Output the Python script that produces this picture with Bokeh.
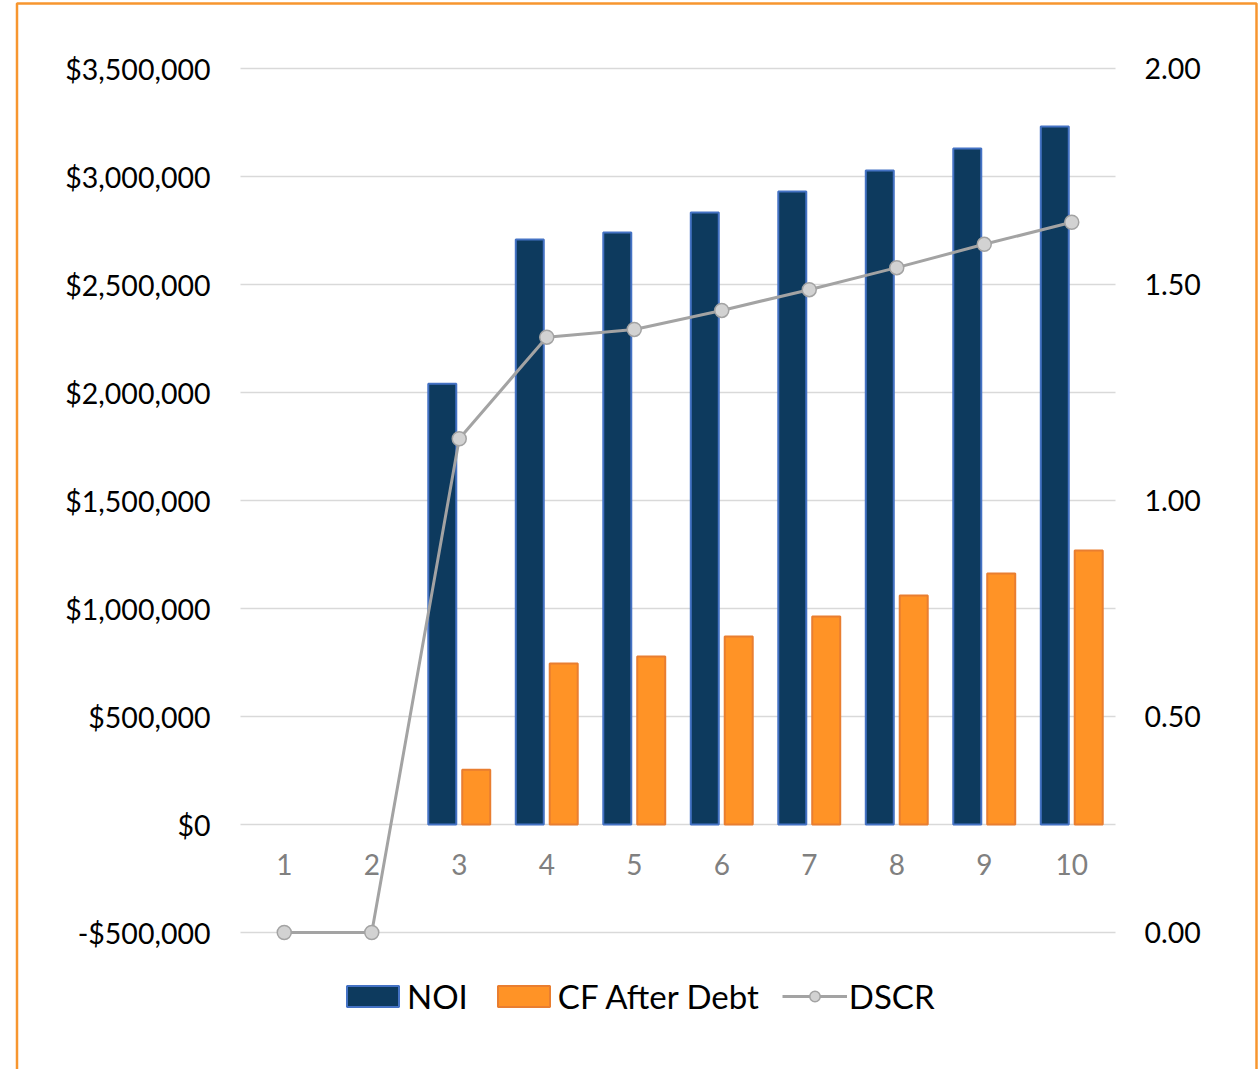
from bokeh.plotting import figure
from bokeh.models import (Range1d, LinearAxis, FixedTicker, CustomJSTickFormatter,
                          Legend, LegendItem, BoxAnnotation, ColumnDataSource)
from bokeh.transform import dodge
from bokeh.embed import file_html
from bokeh.resources import INLINE

NaN = float("nan")

# ---- data ----
years = [1, 2, 3, 4, 5, 6, 7, 8, 9, 10]
noi = [NaN, NaN, 2041000, 2708000, 2741000, 2833000, 2931000, 3028000, 3130000, 3231000]
cf_after_debt = [NaN, NaN, 254000, 745000, 778000, 870000, 963000, 1060000, 1162000, 1268000]
dscr = [0.0, 0.0, 1.143, 1.378, 1.396, 1.440, 1.488, 1.539, 1.593, 1.644]
left_ticks = [-500000, 0, 500000, 1000000, 1500000, 2000000, 2500000, 3000000, 3500000]
right_ticks = [0.0, 0.5, 1.0, 1.5, 2.0]

FONT = "Lato"

# ---- layout (pixels) ----
W, H = 1258, 1069
PX_L, PX_R, PX_T, PX_B = 240, 1115, 68, 932
X_LO, X_HI = years[0] - 0.5, years[-1] + 0.5
Y_LO, Y_HI = left_ticks[0], left_ticks[-1]
R_LO, R_HI = right_ticks[0], right_ticks[-1]

sx = (PX_R - PX_L) / (X_HI - X_LO)
sy = (PX_B - PX_T) / (Y_HI - Y_LO)
sr = (PX_B - PX_T) / (R_HI - R_LO)
x_start, x_end = X_LO - PX_L / sx, X_HI + (W - PX_R) / sx
y_start, y_end = Y_LO - (H - PX_B) / sy, Y_HI + PX_T / sy
r_start, r_end = R_LO - (H - PX_B) / sr, R_HI + PX_T / sr

src = ColumnDataSource(dict(year=years, noi=noi, cf=cf_after_debt, dscr=dscr))

p = figure(width=W, height=H, output_backend="svg", toolbar_location=None,
           x_range=Range1d(x_start, x_end), y_range=Range1d(y_start, y_end),
           min_border=0)
p.outline_line_color = None
p.background_fill_color = "white"
p.border_fill_color = "white"
p.extra_y_ranges = {"dscr": Range1d(r_start, r_end)}
p.xgrid.visible = False
p.ygrid.visible = False

# grid lines spanning only the plot area
p.segment(x0=[X_LO] * len(left_ticks), x1=[X_HI] * len(left_ticks),
          y0=left_ticks, y1=left_ticks, line_color="#D9D9D9", line_width=1.5)

def style_axis(ax, color="black", size="28.5px", standoff=24):
    ax.axis_line_color = None
    ax.major_tick_line_color = None
    ax.minor_tick_line_color = None
    ax.major_label_text_font = FONT
    ax.major_label_text_font_size = size
    ax.major_label_text_color = color
    ax.major_label_standoff = standoff

# left axis
ya = p.yaxis[0]
ya.ticker = FixedTicker(ticks=left_ticks)
ya.formatter = CustomJSTickFormatter(code="""
    const s = '$' + Math.abs(tick).toLocaleString('en-US');
    return tick < 0 ? '-' + s : s;
""")
ya.fixed_location = X_LO
style_axis(ya, standoff=24)

# right axis
ra = LinearAxis(y_range_name="dscr", ticker=FixedTicker(ticks=right_ticks),
                formatter=CustomJSTickFormatter(code="return tick.toFixed(2);"),
                fixed_location=X_HI)
style_axis(ra, standoff=23)
p.add_layout(ra, "right")

# category axis at y = 0
xa = p.xaxis[0]
xa.ticker = FixedTicker(ticks=years)
xa.fixed_location = 0
style_axis(xa, color="#808080", size="28px", standoff=23)

# bars
r_noi = p.vbar(x=dodge("year", -0.194, range=p.x_range), top="noi", bottom=0, width=0.32,
               source=src, fill_color="#0D3A5E", line_color="#4472C4", line_width=2)
r_cf = p.vbar(x=dodge("year", 0.194, range=p.x_range), top="cf", bottom=0, width=0.32,
              source=src, fill_color="#FF9326", line_color="#E97E30", line_width=2)

# DSCR line
r_line = p.line(x="year", y="dscr", source=src, y_range_name="dscr",
                line_color="#A3A3A3", line_width=3)
r_pts = p.scatter(x="year", y="dscr", source=src, y_range_name="dscr", size=14,
                  fill_color="#D2D2D2", line_color="#A3A3A3", line_width=1.5)

legend = Legend(items=[LegendItem(label="NOI", renderers=[r_noi]),
                       LegendItem(label="CF After Debt", renderers=[r_cf]),
                       LegendItem(label="DSCR", renderers=[r_line, r_pts])],
                orientation="horizontal", location=(340, 53))
legend.border_line_color = None
legend.background_fill_alpha = 0
legend.padding = 0
legend.margin = 0
legend.glyph_width = 65
legend.glyph_height = 26
legend.label_standoff = 2
legend.spacing = 23
legend.label_text_font = FONT
legend.label_text_font_size = "33px"
legend.label_text_color = "black"
p.add_layout(legend)

# outer orange frame
frame = BoxAnnotation(left=x_start + 16.5 / sx, right=x_start + 1256 / sx,
                      top=y_end - 3 / sy, bottom=y_start - 30 / sy,
                      fill_alpha=0, line_color="#F7962F", line_alpha=1, line_width=2.5)
p.add_layout(frame)

open("out.html", "w").write(file_html(p, INLINE))
